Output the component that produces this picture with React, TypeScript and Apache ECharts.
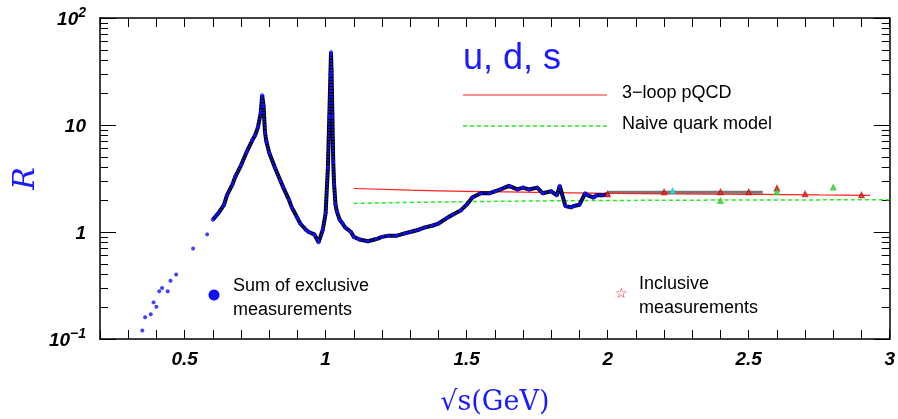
import { useEffect, useRef } from 'react';
import * as echarts from 'echarts';

// sqrt(s) in GeV, R
const exclX = [0.35, 0.36, 0.38, 0.39, 0.40, 0.41, 0.42, 0.44, 0.45, 0.47, 0.53, 0.58, 0.60, 0.61, 0.62, 0.64, 0.65, 0.67, 0.68, 0.70, 0.72, 0.74, 0.75, 0.76, 0.77, 0.775, 0.78, 0.785, 0.79, 0.80, 0.82, 0.84, 0.85, 0.87, 0.88, 0.90, 0.91, 0.93, 0.94, 0.96, 0.975, 0.99, 1.0, 1.008, 1.013, 1.017, 1.019, 1.021, 1.024, 1.027, 1.03, 1.035, 1.04, 1.05, 1.06, 1.07, 1.09, 1.10, 1.12, 1.15, 1.18, 1.2, 1.22, 1.25, 1.28, 1.3, 1.33, 1.35, 1.38, 1.4, 1.43, 1.45, 1.48, 1.5, 1.52, 1.55, 1.58, 1.6, 1.62, 1.65, 1.68, 1.7, 1.72, 1.75, 1.77, 1.8, 1.82, 1.83, 1.85, 1.87, 1.88, 1.9, 1.92, 1.93, 1.95, 1.96, 1.98, 2.0];
const exclR = [0.12, 0.16, 0.17, 0.22, 0.20, 0.28, 0.30, 0.28, 0.35, 0.40, 0.70, 0.95, 1.3, 1.4, 1.5, 1.8, 2.2, 2.8, 3.3, 4.2, 5.6, 7.2, 8.0, 9.5, 13, 19, 15, 8.5, 7.0, 5.5, 4.0, 3.0, 2.6, 2.0, 1.7, 1.35, 1.2, 1.05, 1.0, 0.95, 0.8, 1.05, 1.5, 4.0, 12, 30, 48, 32, 12, 4.5, 2.8, 1.8, 1.55, 1.3, 1.2, 1.1, 1.0, 0.9, 0.85, 0.82, 0.86, 0.9, 0.92, 0.92, 0.97, 1.0, 1.05, 1.1, 1.15, 1.2, 1.35, 1.45, 1.6, 1.8, 2.1, 2.3, 2.3, 2.4, 2.5, 2.7, 2.5, 2.6, 2.5, 2.6, 2.3, 2.4, 2.2, 2.7, 1.75, 1.7, 1.75, 1.8, 2.3, 2.2, 2.1, 2.2, 2.2, 2.25];

const inclX = [2.0, 2.2, 2.4, 2.5, 2.6, 2.7, 2.9];
const inclR = [2.25, 2.35, 2.35, 2.35, 2.55, 2.25, 2.2];
const inclGreenX = [2.4, 2.6, 2.8];
const inclGreenR = [1.95, 2.35, 2.6];
const inclCyanX = [2.23];
const inclCyanR = [2.4];

const pqcdX = [1.1, 1.3, 1.5, 1.75, 2.0, 2.25, 2.5, 2.75, 2.93];
const pqcdR = [2.55, 2.46, 2.4, 2.35, 2.3, 2.27, 2.25, 2.22, 2.2];
const naiveX = [1.1, 1.3, 1.5, 1.75, 2.0, 2.5, 3.0];
const naiveR = [1.85, 1.89, 1.92, 1.95, 1.97, 1.99, 2.0];
const bandX = [2.0, 2.55];
const bandR = [2.35, 2.35];

const xTicks = ['0.5', '1', '1.5', '2', '2.5', '3'];

const zip = (a: number[], b: number[]) => a.map((v, i) => [v, b[i]]);

export default function App() {
  const ref = useRef<HTMLDivElement>(null);

  useEffect(() => {
    if (!ref.current) return;
    const chart = echarts.init(ref.current, undefined, { renderer: 'svg' });
    const tickFont = { fontFamily: 'Liberation Sans', fontWeight: 'bold' as const, fontStyle: 'italic' as const, fontSize: 19, color: '#000' };
    const axisCommon = {
      axisLine: { lineStyle: { color: '#000', width: 1.5 } },
      splitLine: { show: false },
    };
    const contX = exclX.filter(x => x >= 0.6);
    const contR = exclR.filter((_, i) => exclX[i] >= 0.6);
    chart.setOption({
      animation: false,
      grid: { left: 90, right: 3, top: 18, bottom: 77 },
      xAxis: [
        {
          type: 'value', min: 0.2, max: 3, interval: 0.1,
          ...axisCommon,
          axisTick: { inside: true, length: 9, lineStyle: { color: '#000' } },
          axisLabel: {
            ...tickFont, margin: 10,
            formatter: (v: number) => { const s = String(Math.round(v * 10) / 10); return xTicks.includes(s) ? s : ''; },
          },
          name: '√s(GeV)', nameLocation: 'middle', nameGap: 48,
          nameTextStyle: { fontFamily: 'DejaVu Serif', fontSize: 27, color: '#1a1aff' },
        },
        {
          type: 'value', min: 0.2, max: 3, interval: 0.1, position: 'top',
          ...axisCommon,
          axisTick: { inside: true, length: 9, lineStyle: { color: '#000' } },
          axisLabel: { show: false },
        },
      ],
      yAxis: [
        {
          type: 'log', min: 0.1, max: 100, logBase: 10,
          ...axisCommon,
          axisTick: { inside: true, length: 16, lineStyle: { color: '#000' } },
          minorTick: { show: true, splitNumber: 9, length: 8, lineStyle: { color: '#000' } },
          axisLabel: {
            margin: 14,
            formatter: (v: number) => (v >= 99 ? '{b|10}{s|2}' : v < 0.2 ? '{b|10}{s|−1}' : '{b|' + (v >= 9 ? '10' : '1') + '}'),
            rich: { b: { ...tickFont }, s: { ...tickFont, fontSize: 14, verticalAlign: 'top', padding: [0, 0, 12, 0] } },
          },
          name: 'R', nameLocation: 'middle', nameGap: 56, nameRotate: 90,
          nameTextStyle: { fontFamily: 'DejaVu Serif', fontStyle: 'italic', fontSize: 30, color: '#1a1aff' },
        },
        {
          type: 'log', min: 0.1, max: 100, logBase: 10, position: 'right',
          ...axisCommon,
          axisTick: { inside: true, length: 16, lineStyle: { color: '#000' } },
          minorTick: { show: true, splitNumber: 9, length: 8, lineStyle: { color: '#000' } },
          axisLabel: { show: false },
        },
      ],
      series: [
        { type: 'line', data: zip(bandX, bandR), symbol: 'none', lineStyle: { color: '#777', width: 3 }, z: 2 },
        { type: 'line', data: zip(naiveX, naiveR), symbol: 'none', smooth: true, lineStyle: { color: '#22ee22', width: 1.5, type: [4, 3] }, z: 3 },
        { type: 'line', data: zip(pqcdX, pqcdR), symbol: 'none', smooth: true, lineStyle: { color: '#ff2020', width: 1.2 }, z: 3 },
        { type: 'line', data: zip(contX, contR), symbol: 'none', lineStyle: { color: '#000', width: 4 }, z: 4 },
        { type: 'line', data: zip(contX, contR), symbol: 'none', lineStyle: { color: '#1010ff', width: 2, type: [2, 1] }, z: 5 },
        { type: 'scatter', data: zip(exclX, exclR), symbol: 'circle', symbolSize: 4, itemStyle: { color: '#1010ff' }, z: 6 },
        { type: 'scatter', data: zip(inclX, inclR), symbol: 'emptyTriangle', symbolSize: 4, itemStyle: { color: '#cc0000' }, z: 6 },
        { type: 'scatter', data: zip(inclGreenX, inclGreenR), symbol: 'emptyTriangle', symbolSize: 4, itemStyle: { color: '#22cc22' }, z: 6 },
        { type: 'scatter', data: zip(inclCyanX, inclCyanR), symbol: 'emptyTriangle', symbolSize: 4, itemStyle: { color: '#00cccc' }, z: 6 },
      ],
      graphic: [
        { type: 'text', left: 463, top: 38, style: { text: 'u, d, s', fontFamily: 'Liberation Sans', fontSize: 36, fill: '#1a1aff' } },
        { type: 'line', shape: { x1: 463, y1: 95, x2: 607, y2: 95 }, style: { stroke: '#ff2020', lineWidth: 1 } },
        { type: 'text', left: 622, top: 83, style: { text: '3−loop pQCD', fontFamily: 'Liberation Sans', fontSize: 18, fill: '#000' } },
        { type: 'line', shape: { x1: 463, y1: 126, x2: 607, y2: 126 }, style: { stroke: '#22ee22', lineWidth: 1.5, lineDash: [4, 3] } },
        { type: 'text', left: 622, top: 114, style: { text: 'Naive quark model', fontFamily: 'Liberation Sans', fontSize: 18, fill: '#000' } },
        { type: 'circle', shape: { cx: 214, cy: 295, r: 5.5 }, style: { fill: '#1010ff' } },
        { type: 'text', left: 233, top: 273, style: { text: 'Sum of exclusive\nmeasurements', fontFamily: 'Liberation Sans', fontSize: 18, lineHeight: 24, fill: '#000' } },
        { type: 'text', left: 615, top: 286, style: { text: '☆', fontFamily: 'DejaVu Sans', fontSize: 14, fill: '#ff0000' } },
        { type: 'text', left: 639, top: 271, style: { text: 'Inclusive\nmeasurements', fontFamily: 'Liberation Sans', fontSize: 18, lineHeight: 24, fill: '#000' } },
      ],
    });
    return () => chart.dispose();
  }, []);

  return <div ref={ref} style={{ position: 'fixed', left: 0, top: 0, width: 898, height: 419, overflow: 'hidden' }} />;
}
